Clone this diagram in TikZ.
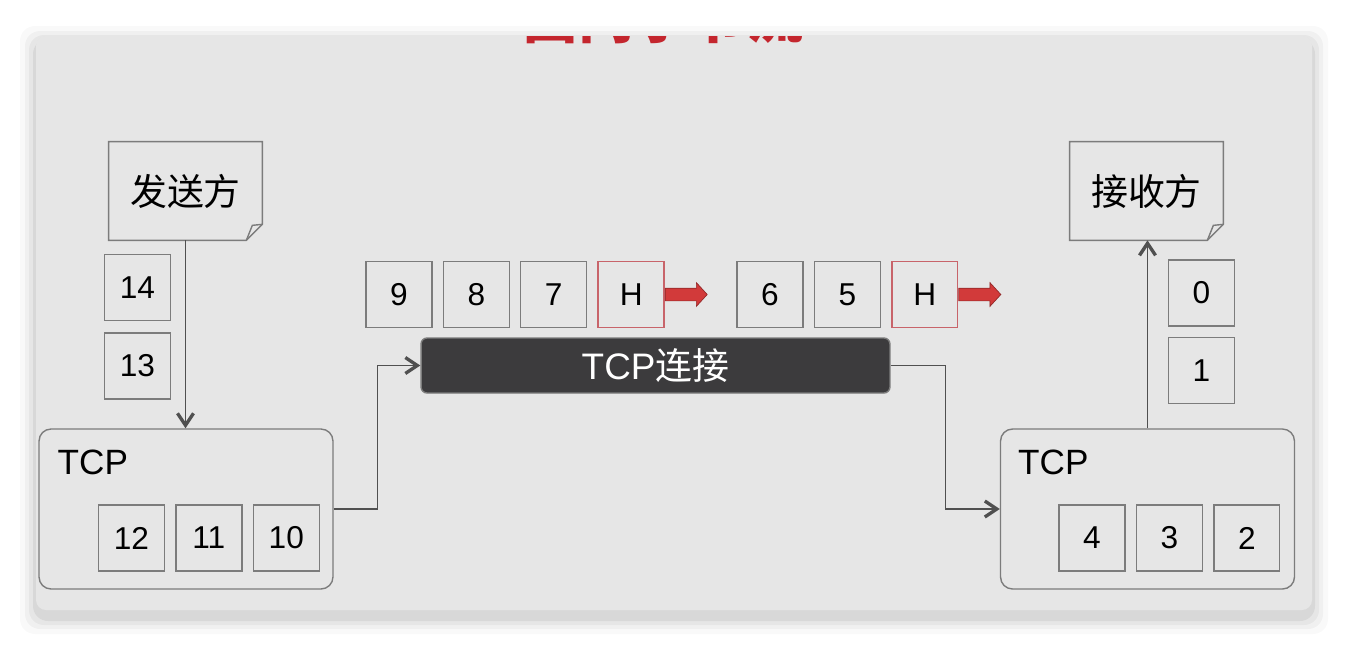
\documentclass[tikz,border=0pt]{standalone}
\usepackage{fontspec}
\setmainfont{Liberation Sans}
\newfontfamily\cjk{Noto Sans CJK SC}
\usetikzlibrary{positioning, calc, arrows.meta, shapes.arrows}

\definecolor{panelgray}{HTML}{E6E6E6}
\definecolor{boxline}{HTML}{7C7C7C}
\definecolor{wire}{HTML}{505050}
\definecolor{hred}{HTML}{C8646A}
\definecolor{arrowred}{HTML}{D23A3A}
\definecolor{darkpipe}{HTML}{3C3B3D}
\definecolor{titlered}{HTML}{C4262E}

\tikzset{
	segbox/.style={draw=boxline, line width=0.8pt, fill=panelgray, minimum size=1.32cm,
		inner sep=0pt, font=\fontsize{18}{20}\selectfont}
}
\tikzset{
	hdrbox/.style={segbox, draw=hred}
}
\tikzset{
	notebox/.style={minimum width=3.06cm, minimum height=1.96cm, inner sep=0pt,
		font=\cjk\fontsize{21}{24}\selectfont}
}
\tikzset{
	tcpbox/.style={draw=boxline, line width=0.8pt, rounded corners=0.24cm,
		minimum width=5.88cm, minimum height=3.2cm}
}
\tikzset{
	tcptext/.style={font=\fontsize{20}{22}\selectfont, inner sep=0pt}
}
\tikzset{
	redarrow/.style={single arrow, fill=arrowred, draw=arrowred!70!black, line width=0.4pt,
		minimum height=0.84cm, inner xsep=0pt, inner ysep=0.12cm,
		single arrow head extend=0.11cm, single arrow tip angle=95}
}
\tikzset{
	link/.style={draw=wire, line width=0.9pt,
		-{Straight Barb[length=0.24cm, width=0.32cm, line width=1.9pt]}}
}

\begin{document}
\begin{tikzpicture}[x=0.02cm, y=-0.02cm]
      \useasboundingbox (0,0) rectangle (1348,646);

      % panel with a soft shadow
      \foreach \s/\o in {16/0.025, 11/0.035, 7/0.045, 3/0.06}
        \fill[black, opacity=\o, rounded corners=0.3cm]
          ({36-\s}, {36-\s+6}) rectangle ({1312+\s}, {610+\s+8});
      \fill[panelgray, rounded corners=0.2cm] (36,36) rectangle (1312,610);

      % title, cut off by the top of the panel
      \begin{scope}
        \clip (36,36) rectangle (1312,610);
        \node[anchor=south, inner sep=0pt, text=titlered,
              font=\cjk\bfseries\fontsize{32}{34}\selectfont] (title) at (663,44) {面向字节流};
      \end{scope}

      % sender side
      \node[notebox] (snd) at (185.5,191) {发送方};
      \node[segbox] (s14) at (137.5,287.5) {14};
      \node[segbox, below=0.22cm of s14] (s13) {13};

      \node[tcpbox] (tcpL) at (186,509) {};
      \node[tcptext, anchor=base west] (tcpLlabel) at ($(tcpL.north west)+(19,46)$) {TCP};
      \node[segbox] (s12) at (131.5,538) {12};
      \node[segbox, right=0.2cm of s12] (s11) {11};
      \node[segbox, right=0.2cm of s11] (s10) {10};

      % the connection
      \node[draw=boxline, fill=darkpipe, line width=0.8pt, rounded corners=0.12cm,
            minimum width=9.38cm, minimum height=1.1cm, text=white,
            font=\fontsize{21}{23}\selectfont] (conn) at (655.5,365.5) {TCP{\cjk 连接}};

      \node[segbox] (s9) at (399,294.5) {9};
      \node[segbox, right=0.2cm of s9] (s8) {8};
      \node[segbox, right=0.2cm of s8] (s7) {7};
      \node[hdrbox, right=0.2cm of s7] (hA) {H};
      \node[redarrow, anchor=tail] (ra) at (hA.east) {};

      \node[segbox] (s6) at (770,294.5) {6};
      \node[segbox, right=0.2cm of s6] (s5) {5};
      \node[hdrbox, right=0.2cm of s5] (hB) {H};
      \node[redarrow, anchor=tail] (rb) at (hB.east) {};

      % receiver side
      \node[notebox] (rcv) at (1146.5,191) {接收方};
      \node[segbox] (s0) at (1201.5,293) {0};
      \node[segbox, below=0.2cm of s0] (s1) {1};

      \node[tcpbox] (tcpR) at (1147.5,509) {};
      \node[tcptext, anchor=base west] (tcpRlabel) at ($(tcpR.north west)+(18,46)$) {TCP};
      \node[segbox] (s4) at (1092,538) {4};
      \node[segbox, right=0.2cm of s4] (s3) {3};
      \node[segbox, right=0.2cm of s3] (s2) {2};

      % folded notes
      \foreach \n in {snd, rcv} {
        \draw[boxline, line width=0.8pt] (\n.north west) -- (\n.north east)
          -- ($(\n.south east)+(0,-16)$) -- ($(\n.south east)+(-16,0)$)
          -- (\n.south west) -- cycle;
        \draw[boxline, line width=0.8pt] ($(\n.south east)+(-16,0)$)
          -- ($(\n.south east)+(-10,-15)$) -- ($(\n.south east)+(0,-16)$);
      }

      % wires
      \draw[link] (snd.south) -- (snd.south |- tcpL.north);
      \draw[link] (tcpL.east) -- ++(44,0) |- (conn.west);
      \draw[link] (conn.east) -- ++(55,0) |- (tcpR.west);
      \draw[link] (tcpR.north) -- (tcpR.north |- rcv.south);
    \end{tikzpicture}
\end{document}
